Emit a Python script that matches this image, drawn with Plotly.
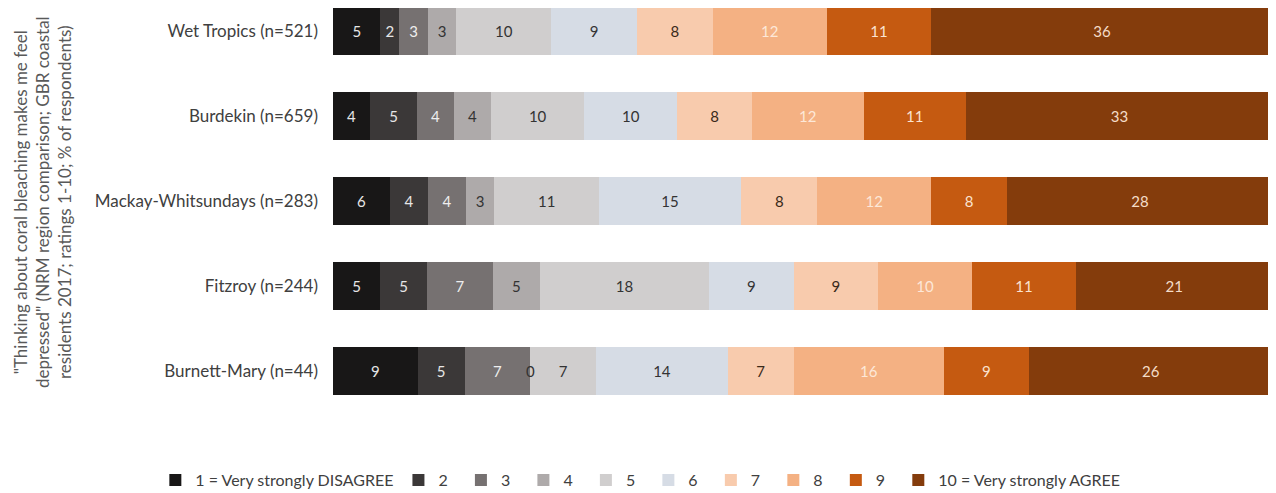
import plotly.graph_objects as go

regions = ["Wet Tropics (n=521)", "Burdekin (n=659)", "Mackay-Whitsundays (n=283)",
           "Fitzroy (n=244)", "Burnett-Mary (n=44)"]
rating_names = ["1 = Very strongly DISAGREE", "2", "3", "4", "5", "6", "7", "8", "9",
                "10 = Very strongly AGREE"]
# values per rating (1..10), one entry per region in the order above
r1 = [5, 4, 6, 5, 9]
r2 = [2, 5, 4, 5, 5]
r3 = [3, 4, 4, 7, 7]
r4 = [3, 4, 3, 5, 0]
r5 = [10, 10, 11, 18, 7]
r6 = [9, 10, 15, 9, 14]
r7 = [8, 8, 8, 9, 7]
r8 = [12, 12, 12, 10, 16]
r9 = [11, 11, 8, 11, 9]
r10 = [36, 33, 28, 21, 26]
series = [r1, r2, r3, r4, r5, r6, r7, r8, r9, r10]

colors = ["#181717", "#3b3838", "#767171", "#aeaaaa", "#d0cece", "#d6dce5",
          "#f8cbad", "#f4b183", "#c55a11", "#843c0c"]
text_colors = ["#e6e6e6", "#e6e6e6", "#eeeeee", "#333333", "#333333", "#333333",
               "#3a2a1a", "#fde8d8", "#fbe3d0", "#f5dcc8"]

FONT = "Lato, Carlito, 'Liberation Sans', sans-serif"
NB = "\u00a0"

fig = go.Figure()
for i, (name, vals, col, tcol) in enumerate(zip(rating_names, series, colors, text_colors)):
    pad = NB * 2 if len(name) == 1 else ""
    fig.add_trace(go.Bar(
        y=regions, x=vals, name=name + pad, orientation="h",
        marker=dict(color=col, line=dict(width=0)),
        text=[str(v) for v in vals], textposition="inside",
        insidetextanchor="middle", textangle=0, constraintext="none",
        textfont=dict(color=tcol, size=15, family=FONT),
        width=0.565, hoverinfo="x+y+name",
    ))

# labels for zero-valued segments (not drawn by plotly inside a zero-width bar)
annotations = []
for ri, reg in enumerate(regions):
    total = sum(s[ri] for s in series)
    cum = 0
    for si, s in enumerate(series):
        if s[ri] == 0:
            annotations.append(dict(x=cum / total * 100, y=reg, xref="x", yref="y",
                                    text="0", showarrow=False,
                                    font=dict(size=15, color="#333333", family=FONT)))
        cum += s[ri]

annotations.append(dict(
    x=-0.3096, y=0.523, xref="paper", yref="paper", xanchor="center", yanchor="middle",
    textangle=-90, showarrow=False,
    text='"Thinking about coral bleaching makes me feel<br>depressed" (NRM region comparison; GBR coastal<br>residents 2017; ratings 1-10; % of respondents)',
    font=dict(size=17, color="#595959", family=FONT), align="center",
))

fig.update_layout(
    barmode="stack", barnorm="percent",
    width=1268, height=485,
    margin=dict(l=325, r=3, t=0, b=78, autoexpand=False),
    paper_bgcolor="white", plot_bgcolor="white",
    font=dict(family=FONT, size=16, color="#404040"),
    xaxis=dict(visible=False, range=[0, 100], automargin=False),
    yaxis=dict(range=[4.52, -0.27], showgrid=False, ticks="", showline=False,
               automargin=False, ticklabelstandoff=14,
               tickfont=dict(size=17, color="#404040")),
    legend=dict(orientation="h", x=-0.189, xanchor="left", y=-0.16, yanchor="middle",
                font=dict(size=16, color="#404040"), traceorder="normal",
                itemwidth=30),
    annotations=annotations,
)

fig.write_html("out.html")
